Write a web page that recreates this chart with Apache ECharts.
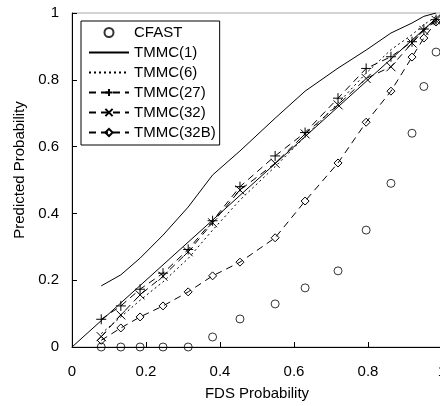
<!DOCTYPE html>
<html><head><meta charset="utf-8">
<script src="https://cdn.jsdelivr.net/npm/echarts@6/dist/echarts.min.js"></script>
<style>html,body{margin:0;padding:0;background:#fff}#c{width:440px;height:406px}</style>
</head><body><div id="c"></div>
<script>
const fdsProb = [0.079,0.132,0.184,0.246,0.314,0.38,0.454,0.549,0.63,0.719,0.795,0.862,0.919,0.951,0.984];
const cfast   = [0,0,0,0,0,0.03,0.084,0.129,0.177,0.228,0.35,0.49,0.64,0.78,0.883];
const tmmc1   = [0.183,0.216,0.266,0.335,0.419,0.515,0.587,0.685,0.766,0.835,0.889,0.94,0.97,0.99,1.0];
const tmmc6   = [0.04,0.09,0.14,0.195,0.265,0.35,0.44,0.54,0.63,0.73,0.82,0.89,0.935,0.965,0.99];
const tmmc27  = [0.083,0.123,0.173,0.221,0.292,0.378,0.48,0.572,0.642,0.745,0.834,0.869,0.914,0.952,0.98];
const tmmc32  = [0.031,0.096,0.156,0.212,0.285,0.372,0.47,0.55,0.638,0.725,0.804,0.839,0.91,0.948,0.978];
const tmmc32b = [0.02,0.057,0.09,0.123,0.165,0.213,0.254,0.327,0.437,0.551,0.673,0.766,0.868,0.925,0.973];
const diagonal = [[0,0],[1,1]];
const legendNames = ['CFAST','TMMC(1)','TMMC(6)','TMMC(27)','TMMC(32)','TMMC(32B)'];

const pair = ys => fdsProb.map((x,i)=>[x,ys[i]]);
const FONT = 'Liberation Sans, Arial, sans-serif';
const FS = 15;
const PLUS = 'path://M5,0L5,10M0,5L10,5';
const CROSS = 'path://M0,0L10,10M0,10L10,0';
const DIAM = 'path://M5,0L10,5L5,10L0,5Z';
const CIRC = 'path://M10,5A5,5,0,1,1,0,5A5,5,0,1,1,10,5Z';
const sym = {color:'none', borderColor:'#000', borderWidth:1};
const noSym = {color:'none', borderColor:'none', borderWidth:0, opacity:0};

function lineSeries(name, ys, type, symbol, size){
  return {
    name, type:'line', data: pair(ys),
    symbol: symbol || 'circle', symbolSize: size || 1, showSymbol: !!symbol,
    lineStyle:{color:'#000', width:1, type:type, opacity:1},
    itemStyle: symbol ? sym : noSym, animation:false
  };
}

const chart = echarts.init(document.getElementById('c'));
chart.setOption({
  animation:false,
  textStyle:{fontFamily:FONT},
  grid:{left:72, top:13, width:370, height:334, show:true, borderColor:'#a8a8a8', borderWidth:1, outerBoundsMode:'none', containLabel:false},
  legend:{
    data: legendNames, orient:'vertical', left:81, top:21,
    itemWidth:40, itemHeight:9, itemGap:5,
    padding:[4,4,5,7],
    borderColor:'#000', borderWidth:1, backgroundColor:'#fff',
    textStyle:{fontFamily:FONT, fontSize:FS, color:'#000'}
  },
  xAxis:{
    type:'value', min:0, max:1, interval:0.2,
    name:'FDS Probability', nameLocation:'middle', nameGap:39,
    nameTextStyle:{fontFamily:FONT, fontSize:FS, color:'#000'},
    axisLine:{lineStyle:{color:'#000', width:1}},
    axisTick:{inside:true, length:5, lineStyle:{color:'#000'}},
    axisLabel:{fontFamily:FONT, fontSize:FS, color:'#000', margin:17},
    splitLine:{show:false}
  },
  yAxis:{
    type:'value', min:0, max:1, interval:0.2,
    name:'Predicted Probability', nameLocation:'middle', nameGap:45,
    nameTextStyle:{fontFamily:FONT, fontSize:FS, color:'#000', padding:[0,0,0,20]},
    axisLine:{show:true, lineStyle:{color:'#000', width:1}},
    axisTick:{show:true, inside:true, length:5, lineStyle:{color:'#000'}},
    axisLabel:{fontFamily:FONT, fontSize:FS, color:'#000', margin:13},
    splitLine:{show:false}
  },
  series:[
    {name:'diag', type:'line', data:diagonal, symbol:'none', lineStyle:{color:'#000', width:1}, animation:false},
    {name:'CFAST', type:'scatter', data:pair(cfast), symbol:CIRC, symbolSize:8, itemStyle:sym, animation:false},
    lineSeries('TMMC(1)', tmmc1, 'solid'),
    lineSeries('TMMC(6)', tmmc6, [2,3]),
    lineSeries('TMMC(27)', tmmc27, [7,5], PLUS, 10),
    lineSeries('TMMC(32)', tmmc32, [7,5], CROSS, 9),
    lineSeries('TMMC(32B)', tmmc32b, [7,5], DIAM, 8)
  ]
});
</script></body></html>
